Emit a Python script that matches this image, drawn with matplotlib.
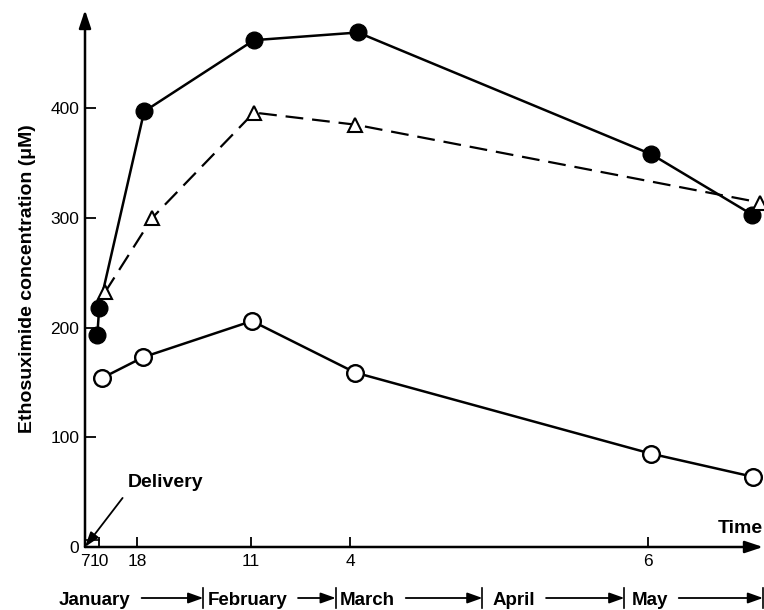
import matplotlib.pyplot as plt
from matplotlib.transforms import blended_transform_factory, ScaledTranslation

plt.rcParams['font.family'] = ['Liberation Sans', 'DejaVu Sans']

# x values are days after delivery (7 January)
tick_days = [0, 3, 11, 35, 56, 119]
tick_labels = ['7', '10', '18', '11', '4', '6']
y_ticks = [0, 100, 200, 300, 400]

months = ['January', 'February', 'March', 'April', 'May']
month_starts = [25, 53, 84, 114]      # 1 Feb, 1 Mar, 1 Apr, 1 May
month_end = 143.3                     # end of the time axis

filled_days = [2.6, 3.0, 12.5, 35.7, 57.7, 119.7, 141.0]
filled_vals = [193, 218, 397, 462, 469, 358, 303]

tri_days = [4.2, 14.2, 35.7, 57.1, 142.7]
tri_vals = [232, 300, 396, 385, 314]

open_days = [3.6, 12.3, 35.3, 57.1, 119.7, 141.2]
open_vals = [154, 173, 206, 159, 85, 64]

fig = plt.figure(figsize=(7.64, 6.10), dpi=100)
ax = fig.add_axes([85 / 764, 63 / 610, 678 / 764, 537 / 610])
ax.set_xlim(0, month_end)
ax.set_ylim(0, 489.5)
for s in ax.spines.values():
    s.set_visible(False)

# axes drawn as arrows
arrow_kw = dict(arrowstyle='-|>,head_length=0.6,head_width=0.2', lw=1.8,
                color='k', shrinkA=0, shrinkB=0, mutation_scale=18)
ax.annotate('', xy=(1, 0), xytext=(0, 0), xycoords='axes fraction',
            arrowprops=arrow_kw, annotation_clip=False)
ax.annotate('', xy=(0, 1), xytext=(0, 0), xycoords='axes fraction',
            arrowprops=arrow_kw, annotation_clip=False)

ax.plot(filled_days, filled_vals, '-o', color='k', lw=1.8, ms=12, zorder=3,
        clip_on=False)
ax.plot(tri_days, tri_vals, '--^', color='k', lw=1.6, dashes=(8, 4), ms=10,
        mfc='white', mec='k', mew=1.5, zorder=3, clip_on=False)
ax.plot(open_days, open_vals, '-o', color='k', lw=1.8, ms=12,
        mfc='white', mec='k', mew=1.7, zorder=3, clip_on=False)

ax.set_xticks(tick_days, tick_labels)
ax.set_yticks(y_ticks)
ax.tick_params(axis='x', direction='in', length=7, width=1.3, labelsize=12.5, pad=5)
ax.tick_params(axis='y', direction='in', length=8, width=1.3, labelsize=12.5, pad=4)

# small bracket between the 7 and 10 ticks
h = 7 / 1.097
ax.plot(tick_days[:2], [h, h], color='k', lw=1.2)

ax.text(1.0, 0.035, 'Time', transform=ax.transAxes, ha='right', va='center',
        fontsize=14, fontweight='bold')
ax.annotate('Delivery', xy=(0, 0), xytext=(17.1, 59), ha='center', va='center',
            fontsize=14, fontweight='bold',
            arrowprops=dict(arrowstyle='-|>,head_length=0.6,head_width=0.2',
                            lw=1.3, color='k', relpos=(0, 0), shrinkA=4,
                            shrinkB=0, mutation_scale=15))

fig.text(28 / 764, 1 - 279 / 610, 'Ethosuximide concentration (μM)',
         rotation=90, ha='center', va='center', fontsize=14, fontweight='bold')

# month row below the axis
trans = blended_transform_factory(ax.transData, fig.transFigure)
y_base = 1 - 605 / 610
y_mid = 1 - 598 / 610
lefts = [0] + month_starts
rights = month_starts + [month_end]
offsets = [-26, 4, 4, 10, 7]          # pixel gap from bar to label
texts = []
for name, left, off in zip(months, lefts, offsets):
    t = ax.text(left, y_base, name, fontsize=13.5, fontweight='bold',
                ha='left', va='baseline',
                transform=trans + ScaledTranslation(off / 100, 0, fig.dpi_scale_trans))
    texts.append(t)

fig.canvas.draw()
inv = ax.transData.inverted()
for t, right in zip(texts, rights):
    bb = t.get_window_extent()
    start = inv.transform((bb.x1 + 11, 0))[0]
    ax.annotate('', xy=(right, y_mid), xytext=(start, y_mid),
                xycoords=trans, textcoords=trans, annotation_clip=False,
                arrowprops=dict(arrowstyle='-|>,head_length=0.7,head_width=0.25',
                                lw=1.3, color='k', shrinkA=0, shrinkB=0,
                                mutation_scale=13))
    ax.plot([right, right], [1 - 608 / 610, 1 - 588 / 610], color='k', lw=1.2,
            transform=trans, clip_on=False)

fig.savefig('out.png', dpi=100)
